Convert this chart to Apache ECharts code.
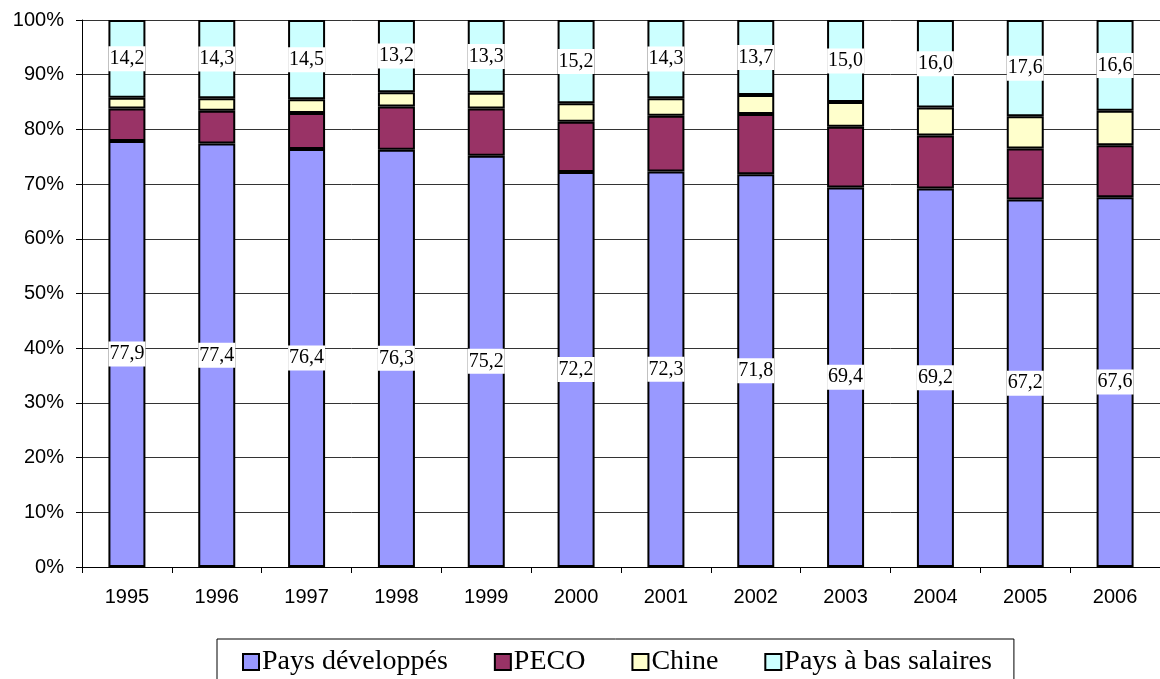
<!DOCTYPE html>
<html>
<head>
<meta charset="utf-8">
<script src="https://cdn.jsdelivr.net/npm/echarts@6/dist/echarts.min.js"></script>
<style>
html,body{margin:0;padding:0;background:#fff;}
#main{width:1160px;height:679px;}
</style>
</head>
<body>
<div id="main"></div>
<script>
var years = ['1995','1996','1997','1998','1999','2000','2001','2002','2003','2004','2005','2006'];
var developpes = [77.9, 77.4, 76.4, 76.3, 75.2, 72.2, 72.3, 71.8, 69.4, 69.2, 67.2, 67.6];
var peco = [5.9, 6.0, 6.6, 7.9, 8.6, 9.2, 10.2, 11.0, 11.1, 9.7, 9.3, 9.5];
var chine = [2.0, 2.3, 2.5, 2.6, 2.9, 3.4, 3.2, 3.5, 4.5, 5.1, 5.9, 6.3];
var basSalaires = [14.2, 14.3, 14.5, 13.2, 13.3, 15.2, 14.3, 13.7, 15.0, 16.0, 17.6, 16.6];

var serif = "'Liberation Serif','Times New Roman',serif";
var sans = "'Liberation Sans',Arial,sans-serif";

var chart = echarts.init(document.getElementById('main'));

function numLabel(show){
    return {
        show: show,
        position: 'inside',
        formatter: function(p){ return p.value.toFixed(1).replace('.', ','); },
        color: '#000',
        fontFamily: serif,
        fontSize: 20,
        backgroundColor: '#fff',
        padding: [3, 1, 2, 1]
    };
}

function serie(name, data, color, showLabel){
    return {
        name: name,
        type: 'bar',
        stack: 'total',
        barWidth: 37,
        data: data,
        itemStyle: {color: color, borderColor: '#000', borderWidth: 2},
        label: numLabel(showLabel),
        emphasis: {disabled: true}
    };
}

var option = {
    animation: false,
    grid: {left: 82, top: 20, right: -11, bottom: 112, containLabel: false},
    legend: {
        left: 217,
        top: 639,
        padding: [9, 22, 12, 25],
        itemGap: 46,
        itemWidth: 16,
        itemHeight: 16,
        borderColor: '#000',
        borderWidth: 1,
        icon: 'rect',
        itemStyle: {borderColor: '#000', borderWidth: 2},
        textStyle: {fontFamily: serif, fontSize: 28, color: '#000', padding: [0, 0, 0, -2]},
        data: ['Pays développés', 'PECO', 'Chine', 'Pays à bas salaires']
    },
    xAxis: {
        type: 'category',
        data: years,
        axisLine: {lineStyle: {color: '#000', width: 1}},
        axisTick: {show: true, length: 6, lineStyle: {color: '#000'}},
        axisLabel: {color: '#000', fontFamily: sans, fontSize: 20, margin: 20}
    },
    yAxis: {
        type: 'value',
        min: 0,
        max: 100,
        interval: 10,
        axisLine: {show: true, lineStyle: {color: '#000', width: 1}},
        axisTick: {show: true, length: 6, lineStyle: {color: '#000'}},
        axisLabel: {color: '#000', fontFamily: sans, fontSize: 20, margin: 18, formatter: '{value}%'},
        splitLine: {show: true, lineStyle: {color: '#333', width: 1}}
    },
    series: [
        serie('Pays développés', developpes, '#9999FF', true),
        serie('PECO', peco, '#993366', false),
        serie('Chine', chine, '#FFFFCC', false),
        serie('Pays à bas salaires', basSalaires, '#CCFFFF', true)
    ]
};
chart.setOption(option);
window.onresize = chart.resize;
</script>
</body>
</html>
